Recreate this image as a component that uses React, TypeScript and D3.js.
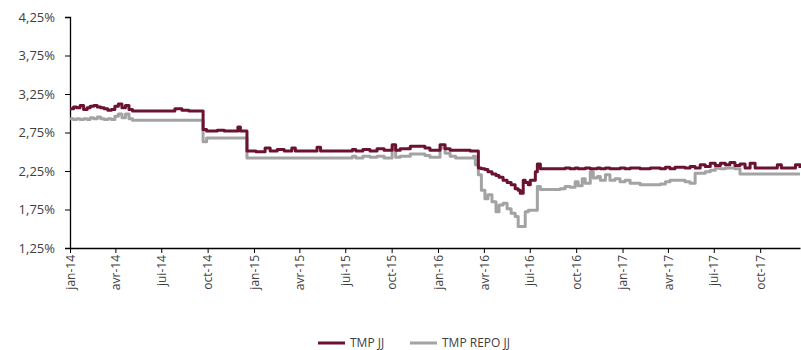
import React, { useEffect, useRef } from "react";
import * as d3 from "d3";

// TMP JJ vs TMP REPO JJ, 2014-2017 (values in %)
const dates = [
  "2014-01-01", "2014-01-08", "2014-01-14", "2014-01-21", "2014-01-28", "2014-02-04", "2014-02-10",
  "2014-02-17", "2014-02-24", "2014-03-03", "2014-03-10", "2014-03-17", "2014-03-24", "2014-03-31",
  "2014-04-07", "2014-04-14", "2014-04-21", "2014-04-28", "2014-05-05", "2014-07-21", "2014-07-28",
  "2014-08-11", "2014-08-25", "2014-09-22", "2014-09-29", "2014-10-20", "2014-11-03", "2014-11-24",
  "2014-11-30", "2014-12-05", "2014-12-18",
  "2015-01-05", "2015-01-23", "2015-02-02", "2015-02-16", "2015-03-02", "2015-03-17", "2015-03-24",
  "2015-05-06", "2015-05-13", "2015-07-01", "2015-07-15", "2015-07-22", "2015-08-05", "2015-08-19",
  "2015-09-02", "2015-09-16", "2015-10-02", "2015-10-09", "2015-10-18", "2015-11-07", "2015-11-26",
  "2015-12-06", "2015-12-16",
  "2016-01-05", "2016-01-15", "2016-01-25", "2016-02-05", "2016-03-05", "2016-03-11", "2016-03-15",
  "2016-03-21", "2016-03-27", "2016-04-03", "2016-04-09", "2016-04-17", "2016-04-25", "2016-05-01",
  "2016-05-09", "2016-05-17", "2016-05-25", "2016-06-02", "2016-06-08", "2016-06-12", "2016-06-18",
  "2016-06-22", "2016-06-28", "2016-07-02", "2016-07-12", "2016-07-16", "2016-07-22", "2016-08-30",
  "2016-09-09", "2016-09-19", "2016-09-29", "2016-10-05", "2016-10-13", "2016-10-19", "2016-10-29",
  "2016-11-04", "2016-11-12", "2016-11-18", "2016-11-28", "2016-12-07", "2016-12-17", "2016-12-27",
  "2017-01-06", "2017-01-16", "2017-02-05", "2017-02-25", "2017-03-17", "2017-03-27", "2017-04-05",
  "2017-04-15", "2017-05-05", "2017-05-15", "2017-05-25", "2017-06-04", "2017-06-14", "2017-06-24",
  "2017-07-04", "2017-07-14", "2017-07-24", "2017-08-02", "2017-08-12", "2017-08-22", "2017-09-01",
  "2017-09-11", "2017-09-21", "2017-10-21", "2017-11-04", "2017-11-12", "2017-12-10", "2017-12-19",
];

const tmpJJ = [
  3.06, 3.08, 3.07, 3.10, 3.05, 3.07, 3.09,
  3.10, 3.08, 3.07, 3.06, 3.04, 3.05, 3.09,
  3.12, 3.07, 3.10, 3.05, 3.03, 3.03, 3.06,
  3.04, 3.03, 2.79, 2.77, 2.78, 2.77, 2.77,
  2.82, 2.77, 2.51,
  2.50, 2.55, 2.51, 2.53, 2.51, 2.55, 2.51,
  2.56, 2.51, 2.51, 2.53, 2.51, 2.53, 2.51,
  2.54, 2.52, 2.59, 2.52, 2.54, 2.57, 2.57,
  2.55, 2.52,
  2.59, 2.54, 2.52, 2.52, 2.51, 2.51, 2.51,
  2.29, 2.28, 2.27, 2.24, 2.21, 2.19, 2.17,
  2.13, 2.10, 2.07, 2.02, 2.00, 1.96, 2.13,
  2.10, 2.07, 2.13, 2.24, 2.34, 2.28, 2.28,
  2.29, 2.28, 2.29, 2.28, 2.28, 2.29, 2.28,
  2.28, 2.29, 2.28, 2.29, 2.28, 2.28, 2.29,
  2.28, 2.29, 2.28, 2.29, 2.28, 2.30, 2.28,
  2.30, 2.29, 2.31, 2.29, 2.33, 2.31, 2.35,
  2.32, 2.35, 2.33, 2.36, 2.32, 2.34, 2.29,
  2.35, 2.29, 2.29, 2.33, 2.29, 2.33, 2.29,
];

const tmpRepoJJ = [
  2.93, 2.92, 2.93, 2.92, 2.93, 2.92, 2.94,
  2.93, 2.95, 2.93, 2.92, 2.93, 2.92, 2.96,
  2.99, 2.94, 2.99, 2.93, 2.91, 2.91, 2.91,
  2.91, 2.91, 2.63, 2.68, 2.68, 2.68, 2.68,
  2.68, 2.68, 2.42,
  2.42, 2.42, 2.42, 2.42, 2.42, 2.42, 2.42,
  2.42, 2.42, 2.42, 2.44, 2.42, 2.44, 2.43,
  2.44, 2.42, 2.55, 2.43, 2.44, 2.47, 2.47,
  2.45, 2.43,
  2.55, 2.48, 2.44, 2.42, 2.42, 2.44, 2.33,
  2.20, 2.00, 1.89, 1.94, 1.85, 1.72, 1.81,
  1.83, 1.76, 1.70, 1.66, 1.53, 1.53, 1.53,
  1.72, 1.74, 1.74, 1.74, 2.05, 2.01, 2.02,
  2.05, 2.04, 2.11, 2.06, 2.15, 2.09, 2.24,
  2.16, 2.18, 2.13, 2.20, 2.13, 2.15, 2.11,
  2.13, 2.09, 2.07, 2.07, 2.08, 2.11, 2.13,
  2.13, 2.11, 2.09, 2.22, 2.22, 2.24, 2.26,
  2.285, 2.28, 2.29, 2.29, 2.28, 2.21, 2.21,
  2.21, 2.21, 2.21, 2.21, 2.21, 2.21, 2.21,
];

const seriesNames = ["TMP JJ", "TMP REPO JJ"];
const seriesColors = ["#6b1232", "#a3a3a3"];
const yTicks = [1.25, 1.75, 2.25, 2.75, 3.25, 3.75, 4.25];
const monthNames = ["jan", "fév", "mar", "avr", "mai", "jun", "jui", "aoû", "sep", "oct", "nov", "déc"];

const W = 801;
const H = 350;
const m = { top: 17, right: 1, bottom: 102, left: 70 };
const FONT = "'Open Sans', sans-serif";

const App = () => {
  const svgRef = useRef<SVGSVGElement | null>(null);

  useEffect(() => {
    const svg = d3.select(svgRef.current);
    svg.selectAll("*").remove();

    const parse = d3.timeParse("%Y-%m-%d");
    const xs = dates.map((d) => parse(d) as Date);

    const x = d3
      .scaleTime()
      .domain([parse("2014-01-01") as Date, parse("2017-12-19") as Date])
      .range([m.left, W - m.right]);
    const y = d3
      .scaleLinear()
      .domain([1.25, 4.25])
      .range([H - m.bottom, m.top]);

    // y axis
    const yAxis = svg
      .append("g")
      .attr("transform", `translate(${m.left},0)`)
      .call(
        d3
          .axisLeft(y)
          .tickValues(yTicks)
          .tickSize(5)
          .tickPadding(10)
          .tickFormat((d) => d3.format(".2f")(d as number).replace(".", ",") + "%")
      );
    yAxis.select(".domain").attr("stroke", "#000").attr("stroke-width", 1.3);
    yAxis.selectAll(".tick line").attr("stroke", "#000");
    yAxis
      .selectAll(".tick text")
      .attr("fill", "#404040")
      .style("font-family", FONT)
      .style("font-size", "13px");

    // x axis, quarterly ticks
    const quarters = d3.timeMonth.every(3)!.range(parse("2014-01-01") as Date, parse("2017-12-19") as Date);
    const xAxis = svg
      .append("g")
      .attr("transform", `translate(0,${H - m.bottom})`)
      .call(
        d3
          .axisBottom(x)
          .tickValues(quarters)
          .tickSize(5)
          .tickSizeOuter(0)
          .tickFormat((d) => {
            const dt = d as Date;
            return monthNames[dt.getMonth()] + "-" + String(dt.getFullYear()).slice(2);
          })
      );
    xAxis.select(".domain").attr("stroke", "#000").attr("stroke-width", 1.3);
    xAxis.selectAll(".tick line").attr("stroke", "#000");
    xAxis
      .selectAll(".tick text")
      .attr("fill", "#404040")
      .style("font-family", FONT)
      .style("font-size", "12px")
      .attr("text-anchor", "end")
      .attr("transform", "rotate(-90)")
      .attr("x", -7)
      .attr("y", 0)
      .attr("dy", "0.35em");

    // lines
    const series = [tmpJJ, tmpRepoJJ];
    const line = d3
      .line<number>()
      .x((_, i) => x(xs[i]))
      .y((d) => y(d))
      .curve(d3.curveStepAfter);

    [1, 0].forEach((k) => {
      svg
        .append("path")
        .datum(series[k])
        .attr("fill", "none")
        .attr("stroke", seriesColors[k])
        .attr("stroke-width", 3)
        .attr("stroke-linejoin", "round")
        .attr("d", line);
    });

    // legend
    const legendX = [318, 410];
    const legendY = 343;
    seriesNames.forEach((name, i) => {
      const g = svg.append("g").attr("transform", `translate(${legendX[i]},${legendY})`);
      g.append("line")
        .attr("x1", 0)
        .attr("x2", 27)
        .attr("y1", 0)
        .attr("y2", 0)
        .attr("stroke", seriesColors[i])
        .attr("stroke-width", 3);
      g.append("text")
        .attr("x", 32)
        .attr("y", 0)
        .attr("dy", "0.35em")
        .attr("fill", "#404040")
        .style("font-family", FONT)
        .style("font-size", "12px")
        .text(name);
    });
  }, []);

  return (
    <svg
      ref={svgRef}
      width={W}
      height={H}
      style={{ position: "absolute", left: 0, top: 0, background: "#fff" }}
    />
  );
};

export default App;
